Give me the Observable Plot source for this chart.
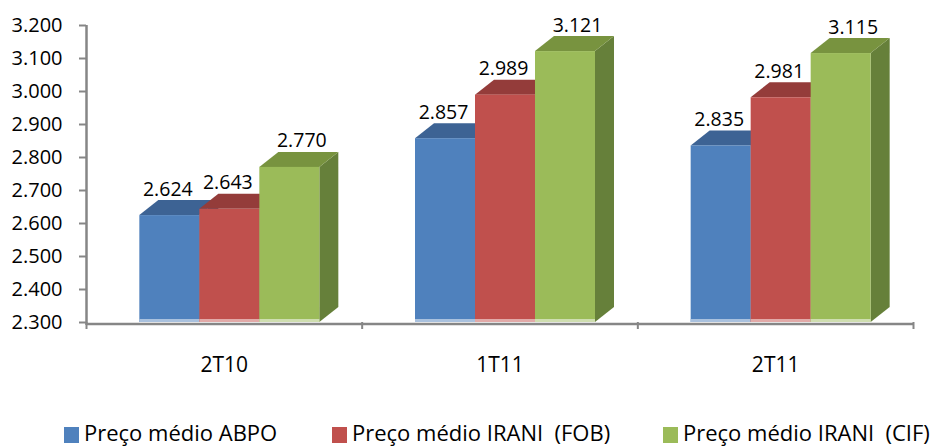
<!DOCTYPE html>
<html><head><meta charset="utf-8">
<script src="https://cdn.jsdelivr.net/npm/d3@7"></script>
<script src="https://cdn.jsdelivr.net/npm/@observablehq/plot@0.6"></script>
<style>
body{margin:0;background:#fff;font-family:"Open Sans",sans-serif;}
#wrap{position:relative;width:932px;height:446px;overflow:hidden;background:#fff}
.item{position:absolute;top:421px;height:25px;font-size:22px;line-height:22px;white-space:pre;color:#000}
.sw{position:absolute;left:0;top:6px;width:15px;height:16px}
.lab{position:absolute;left:20px;top:0}
</style></head><body><div id="wrap"></div>
<script>
const categories = ["2T10", "1T11", "2T11"];
const seriesNames = ["Preço médio ABPO", "Preço médio IRANI  (FOB)", "Preço médio IRANI  (CIF)"];
const abpo = [2.624, 2.857, 2.835];
const iraniFob = [2.643, 2.989, 2.981];
const iraniCif = [2.770, 3.121, 3.115];
const yTicks = [2.3, 2.4, 2.5, 2.6, 2.7, 2.8, 2.9, 3.0, 3.1, 3.2];

const frontColors = ["#4f81bd", "#c0504d", "#9bbb59"];
const topColors = ["#3d6394", "#943c3a", "#78933f"];
const sideColors = ["#34557f", "#7f3331", "#66803a"];
const stripColors = ["#a9c1de", "#e2aaa8", "#cfdeb0"];
const legendLeft = [64, 332, 663];
const labelDx = [-2, -2, 12];

const W = 932, H = 400, mL = 86, mR = 19, mT = 25, mB = 78;
const yMin = 2.3, yMax = 3.2;
const pxX = 3 / (W - mL - mR);
const pxY = (yMax - yMin) / (H - mT - mB);
const barW = 60 * pxX, groupOff = 5.5 * pxX, D = 19 * pxX, E = 15 * pxY;

const values = [abpo, iraniFob, iraniCif];
const bars = [];
values.forEach((vals, s) => vals.forEach((v, i) => {
  const x1 = i + groupOff - 1.5 * barW + s * barW;
  bars.push({id: s + "-" + i, s, i, v, x1, x2: x1 + barW, cat: categories[i], series: seriesNames[s]});
}));
const sideFaces = bars.flatMap(b => [
  {id: b.id, s: b.s, x: b.x2, y1: yMin, y2: b.v},
  {id: b.id, s: b.s, x: b.x2 + D, y1: yMin + E, y2: b.v + E}
]);
const topFaces = bars.flatMap(b => [
  {id: b.id, s: b.s, x: b.x1, y1: b.v, y2: b.v},
  {id: b.id, s: b.s, x: b.x1 + D, y1: b.v, y2: b.v + E},
  {id: b.id, s: b.s, x: b.x2, y1: b.v, y2: b.v + E},
  {id: b.id, s: b.s, x: b.x2 + D, y1: b.v + E, y2: b.v + E}
]);

const fmt = d3.format(".3f");
const marks = [];
[0, 1, 2].forEach(s => {
  marks.push(Plot.areaY(sideFaces.filter(d => d.s === s), {x: "x", y1: "y1", y2: "y2", z: "id", fill: sideColors[s]}));
  marks.push(Plot.areaY(topFaces.filter(d => d.s === s), {x: "x", y1: "y1", y2: "y2", z: "id", fill: topColors[s]}));
  marks.push(Plot.rect(bars.filter(d => d.s === s), {x1: "x1", x2: "x2", y1: yMin, y2: "v", fill: frontColors[s]}));
  marks.push(Plot.rect(bars.filter(d => d.s === s), {x1: "x1", x2: "x2", y1: yMin, y2: yMin, insetTop: -3, fill: stripColors[s]}));
});
[0, 1, 2].forEach(s => {
  marks.push(Plot.text(bars.filter(d => d.s === s), {
    x: d => (d.x1 + d.x2) / 2, y: "v", text: d => fmt(d.v),
    lineAnchor: "bottom", dy: -20, dx: labelDx[s], fontSize: 19.5, fill: "#000"
  }));
});
marks.push(Plot.ruleX([-0.5], {stroke: "#868686", strokeWidth: 2.5, insetBottom: -3}));
marks.push(Plot.ruleY([yMin], {stroke: "#868686", strokeWidth: 2.5, dy: 1.5}));
marks.push(Plot.axisY({ticks: yTicks, tickFormat: fmt, tickSize: 7, tickPadding: 17, fontSize: 20, stroke: "#868686", strokeWidth: 2, fill: "#000"}));
marks.push(Plot.axisX({ticks: [-0.5, 0.5, 1.5, 2.5], tickFormat: () => "", tickSize: 7, stroke: "#868686", strokeWidth: 2}));
marks.push(Plot.axisX({ticks: [0, 1, 2], tickFormat: i => categories[i], tickSize: 0, tickPadding: 35, fontSize: 21, fill: "#000"}));

const chart = Plot.plot({
  width: W, height: H,
  marginLeft: mL, marginRight: mR, marginTop: mT, marginBottom: mB,
  style: {fontFamily: "Open Sans", background: "#fff", color: "#000", overflow: "visible"},
  x: {type: "linear", domain: [-0.5, 2.5]},
  y: {type: "linear", domain: [yMin, yMax]},
  marks
});
const wrap = document.getElementById("wrap");
wrap.appendChild(chart);
seriesNames.forEach((name, s) => {
  const it = document.createElement("div");
  it.className = "item";
  it.style.left = legendLeft[s] + "px";
  const sw = document.createElement("span");
  sw.className = "sw"; sw.style.background = frontColors[s];
  const lab = document.createElement("span");
  lab.className = "lab"; lab.textContent = name;
  it.appendChild(sw); it.appendChild(lab);
  wrap.appendChild(it);
});
</script></body></html>
